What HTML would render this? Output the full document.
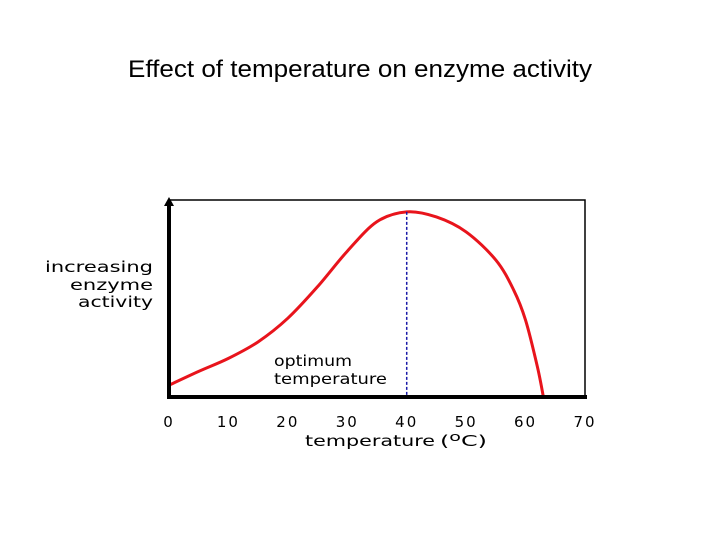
<!DOCTYPE html>
<html><head><meta charset="utf-8"><style>
body{margin:0;background:#fff;width:720px;height:540px;overflow:hidden}
svg text{font-family:"DejaVu Sans","Liberation Sans",sans-serif}
</style></head><body>
<svg width="720" height="540">
<text x="128" y="77" font-size="24" textLength="464" lengthAdjust="spacingAndGlyphs" style="font-family:'Liberation Sans',sans-serif">Effect of temperature on enzyme activity</text>
<rect x="169" y="200" width="416" height="197" fill="none" stroke="#000" stroke-width="1.5"/>
<g id="g"></g>
<line x1="169" y1="204" x2="169" y2="399" stroke="#000" stroke-width="4"/>
<polygon points="169,197 164,206 174,206" fill="#000"/>
<line x1="167" y1="397" x2="587" y2="397" stroke="#000" stroke-width="4"/>
<g font-size="15" fill="#000">
<text x="45" y="272" textLength="108" lengthAdjust="spacingAndGlyphs">increasing</text><text x="70" y="290" textLength="83" lengthAdjust="spacingAndGlyphs">enzyme</text><text x="78" y="307" textLength="75" lengthAdjust="spacingAndGlyphs">activity</text></g>
<g font-size="15">
<text x="274" y="366" textLength="78" lengthAdjust="spacingAndGlyphs">optimum</text><text x="274" y="384" textLength="113" lengthAdjust="spacingAndGlyphs">temperature</text></g>
<g font-size="15">
<text x="305" y="446" textLength="130" lengthAdjust="spacingAndGlyphs">temperature</text>
<text x="440" y="446" textLength="47" lengthAdjust="spacingAndGlyphs">(<tspan font-size="12" dy="-5">o</tspan><tspan dy="5">C)</tspan></text>
</g>
</svg>
<script>
const temps=[0,5,10,15,20,25,30,35,40,45,50,55,58,60,62,63];
const activity=[6,13,19.6,28,40,56,74,89,94,91.4,83.8,69.5,54.3,39,15.2,0];
const xTicks=[0,10,20,30,40,50,60,70];
const optimum=40;
const X=v=>169+v*(416/70), Y=v=>397-v*1.97;
const ns="http://www.w3.org/2000/svg", g=document.getElementById('g');
function mk(t,a){const e=document.createElementNS(ns,t);for(const k in a)e.setAttribute(k,a[k]);g.appendChild(e);return e;}
let d="M"+X(temps[0])+","+Y(activity[0]);
for(let i=0;i<temps.length-1;i++){
 const p0=i>0?i-1:i,p3=i+2<temps.length?i+2:i+1;
 const x0=X(temps[p0]),y0=Y(activity[p0]),x1=X(temps[i]),y1=Y(activity[i]),x2=X(temps[i+1]),y2=Y(activity[i+1]),x3=X(temps[p3]),y3=Y(activity[p3]);
 d+=" C"+(x1+(x2-x0)/6)+","+(y1+(y2-y0)/6)+" "+(x2-(x3-x1)/6)+","+(y2-(y3-y1)/6)+" "+x2+","+y2;
}
const c=mk('path',{d:d,fill:'none',stroke:'#e8141c','stroke-width':3});


const o=mk('line',{x1:X(optimum),x2:X(optimum),y1:Y(94),y2:397,stroke:'#1a1aa8','stroke-width':1.5,'stroke-dasharray':'3,2'});


xTicks.forEach(v=>{
 const t=mk('text',{x:X(v),y:427,'text-anchor':'middle','font-size':15,'letter-spacing':2});
 t.textContent=v;
 
 
});
</script>
</body></html>
